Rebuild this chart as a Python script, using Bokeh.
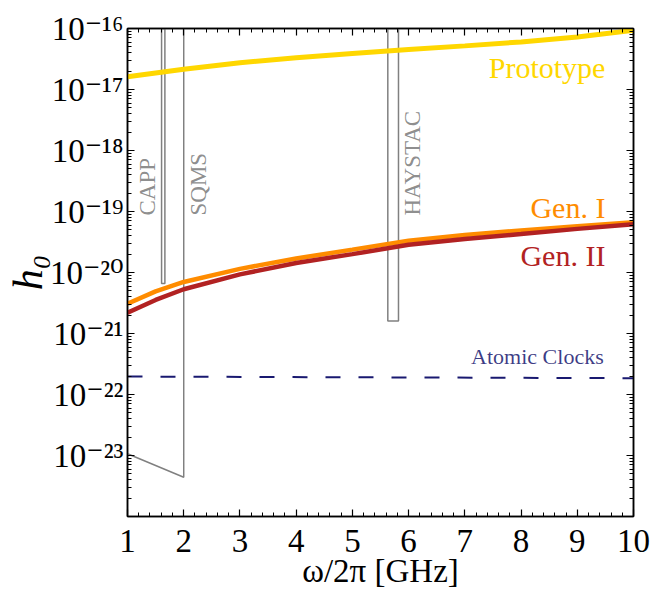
from bokeh.plotting import figure
from bokeh.models import (Range1d, LinearAxis, LogAxis, FixedTicker, SingleIntervalTicker,
                          CustomJSTickFormatter, Label)
from bokeh.embed import file_html
from bokeh.resources import INLINE

# ---------------- data ----------------
freq = [1, 1.5, 2, 3, 4, 5, 6, 7, 8, 9, 10]          # omega/2pi [GHz]
prototype = [1.62e-17, 1.87e-17, 2.14e-17, 2.75e-17, 3.31e-17, 3.89e-17,
             4.52e-17, 5.19e-17, 6.03e-17, 7.24e-17, 9.33e-17]
gen1 = [3.09e-21, 4.9e-21, 7.0e-21, 1.148e-20, 1.70e-20, 2.37e-20,
        3.31e-20, 4.12e-20, 4.9e-20, 5.75e-20, 6.68e-20]
gen2 = [2.19e-21, 3.55e-21, 5.31e-21, 9.33e-21, 1.43e-20, 2.00e-20,
        2.85e-20, 3.55e-20, 4.27e-20, 5.19e-20, 6.17e-20]

clock_x = [1, 10]
clock_h = [1.97e-22, 1.85e-22]

# experimental exclusion outlines
capp_x = [1.606, 1.665]; capp_h = [6.6e-21, 1e-16]
haystac_x = [5.63, 5.82]; haystac_h = [1.6e-21, 1e-16]
sqms_x = [1, 2, 2]; sqms_h = [1.07e-23, 4.4e-24, 1e-16]

y_tick_values = [1e-23, 1e-22, 1e-21, 1e-20, 1e-19, 1e-18, 1e-17, 1e-16]
y_tick_labels = ["10⁻²³", "10⁻²²", "10⁻²¹", "10⁻²⁰", "10⁻¹⁹", "10⁻¹⁸", "10⁻¹⁷", "10⁻¹⁶"]

# ---------------- styling ----------------
FONT = "Liberation Serif"
TICKFONT = "'Liberation Serif', 'DejaVu Serif'"
GOLD = "#FFD700"; ORANGE = "#FF8C00"; RED = "#B22222"; NAVY = "#191970"; GRAY = "#808080"

p = figure(x_range=Range1d(1, 10), y_range=Range1d(1e-24, 1e-16), y_axis_type="log",
           width=652, height=593, output_backend="svg", toolbar_location=None,
           min_border_left=127, min_border_right=19, min_border_top=28, min_border_bottom=77)
p.xgrid.visible = False
p.ygrid.visible = False
p.outline_line_color = "black"
p.outline_line_width = 1.5
p.background_fill_color = "white"
p.border_fill_color = "white"

minor_y = [k * 10.0 ** e for e in range(-24, -16) for k in range(2, 10)]
yticker = FixedTicker(ticks=y_tick_values, minor_ticks=minor_y)
xticker = SingleIntervalTicker(interval=1, num_minor_ticks=5)

fmt = CustomJSTickFormatter(args=dict(vals=y_tick_values, labels=y_tick_labels), code="""
    const e = Math.log10(tick);
    let best = 0, bd = 1e9;
    for (let i = 0; i < vals.length; i++) {
        const d = Math.abs(Math.log10(vals[i]) - e);
        if (d < bd) { bd = d; best = i; }
    }
    return labels[best];
""")
blank = CustomJSTickFormatter(code="return '';")

def style_axis(ax, show_labels):
    ax.axis_line_color = "black"
    ax.axis_line_width = 1.5
    ax.major_tick_line_color = "black"
    ax.minor_tick_line_color = "black"
    ax.major_tick_line_width = 1.2
    ax.minor_tick_line_width = 1.0
    ax.major_tick_in = 7
    ax.major_tick_out = 0
    ax.minor_tick_in = 4
    ax.minor_tick_out = 0
    ax.major_label_text_font = TICKFONT
    ax.major_label_text_color = "black"
    if show_labels:
        ax.major_label_text_font_size = "33px"
    else:
        ax.formatter = blank
        ax.major_label_text_font_size = "2px"
        ax.major_label_standoff = 0

xa = p.xaxis[0]
xa.ticker = xticker
style_axis(xa, True)
xa.major_label_standoff = 13
xa.axis_label = "ω/2π [GHz]"
xa.axis_label_text_font = FONT
xa.axis_label_text_font_size = "33px"
xa.axis_label_text_font_style = "normal"
xa.axis_label_text_color = "black"
xa.axis_label_standoff = -2

ya = p.yaxis[0]
ya.ticker = yticker
ya.formatter = fmt
style_axis(ya, True)
ya.major_label_standoff = 4
ya.axis_label = "h₀"
ya.axis_label_text_font = TICKFONT
ya.axis_label_text_font_size = "42px"
ya.axis_label_text_font_style = "italic"
ya.axis_label_text_color = "black"
ya.axis_label_standoff = -4

top = LinearAxis(ticker=xticker)
style_axis(top, False)
p.add_layout(top, "above")
right = LogAxis(ticker=yticker)
style_axis(right, False)
p.add_layout(right, "right")

# exclusion outlines
p.quad(left=capp_x[0], right=capp_x[1], bottom=capp_h[0], top=capp_h[1],
       fill_color=None, line_color=GRAY, line_width=1.5)
p.quad(left=haystac_x[0], right=haystac_x[1], bottom=haystac_h[0], top=haystac_h[1],
       fill_color=None, line_color=GRAY, line_width=1.5)
p.line(sqms_x, sqms_h, line_color=GRAY, line_width=1.5)

# sensitivity curves
p.line(clock_x, clock_h, line_color=NAVY, line_width=2, line_dash="15 18")
p.line(freq, prototype, line_color=GOLD, line_width=5)
p.line(freq, gen1, line_color=ORANGE, line_width=4.5)
p.line(freq, gen2, line_color=RED, line_width=4.5)

def add_label(x, y, text, color, size, **kw):
    p.add_layout(Label(x=x, y=y, text=text, text_color=color, text_font=FONT,
                       text_font_size=size, text_baseline="middle", **kw))

add_label(9.5, 2.32e-17, "Prototype", GOLD, "30px", text_align="right")
add_label(9.5, 1.17e-19, "Gen. I", ORANGE, "30px", text_align="right")
add_label(9.5, 1.90e-20, "Gen. II", RED, "30px", text_align="right")
add_label(9.47, 4.2e-22, "Atomic Clocks", NAVY, "22px", text_align="right", text_alpha=0.85)
add_label(1.356, 8.6e-20, "CAPP", GRAY, "23px", angle=1.5708, text_align="left", text_alpha=0.9)
add_label(2.263, 8.6e-20, "SQMS", GRAY, "23px", angle=1.5708, text_align="left", text_alpha=0.9)
add_label(6.07, 8.6e-20, "HAYSTAC", GRAY, "23px", angle=1.5708, text_align="left", text_alpha=0.9)

open("out.html", "w").write(file_html(p, INLINE))
